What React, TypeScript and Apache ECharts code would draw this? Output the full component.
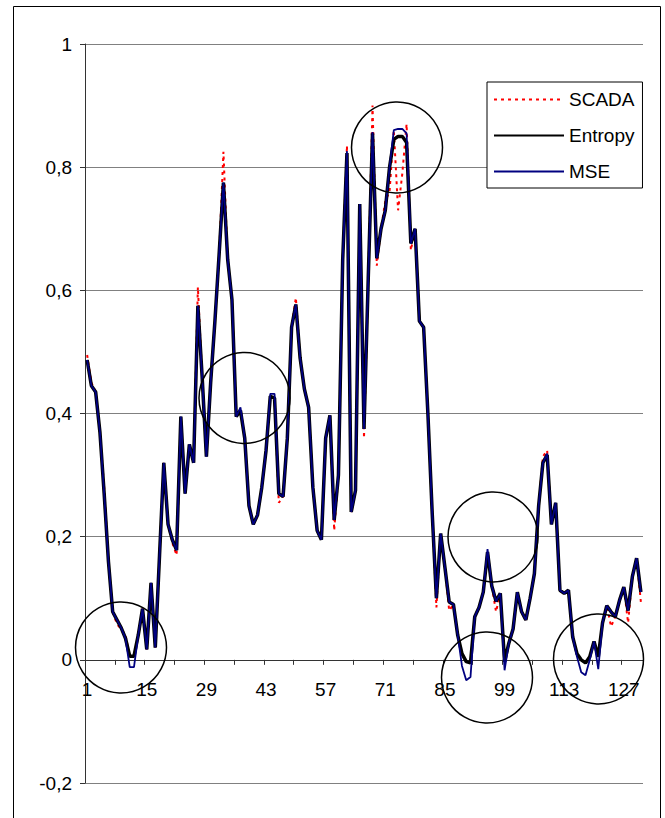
import React, { useEffect, useRef } from "react";
import * as echarts from "echarts";

const categories: string[] = Array.from({ length: 131 }, (_, i) => String(i + 1));

const entropy: number[] = [
  0.487, 0.445, 0.435, 0.37, 0.27, 0.16, 0.078, 0.065, 0.052, 0.035,
  0.006, 0.006, 0.04, 0.083, 0.017, 0.125, 0.02, 0.17, 0.32, 0.22,
  0.195, 0.178, 0.395, 0.27, 0.35, 0.32, 0.575, 0.46, 0.33, 0.45,
  0.55, 0.66, 0.775, 0.65, 0.585, 0.395, 0.405, 0.36, 0.25, 0.22,
  0.235, 0.28, 0.34, 0.428, 0.425, 0.27, 0.265, 0.36, 0.54, 0.577,
  0.49, 0.44, 0.41, 0.28, 0.21, 0.195, 0.36, 0.397, 0.227, 0.3,
  0.65, 0.823, 0.24, 0.275, 0.74, 0.375, 0.62, 0.855, 0.652, 0.7,
  0.73, 0.8, 0.845, 0.85, 0.85, 0.84, 0.676, 0.7, 0.55, 0.54,
  0.4, 0.24, 0.1, 0.205, 0.15, 0.094, 0.09, 0.04, 0.01, -0.003,
  -0.005, 0.07, 0.085, 0.11, 0.175, 0.12, 0.095, 0.108, -0.003, 0.027,
  0.05, 0.11, 0.078, 0.065, 0.1, 0.14, 0.25, 0.32, 0.333, 0.22,
  0.255, 0.113, 0.108, 0.113, 0.037, 0.01, 0.0, -0.005, 0.005, 0.03,
  0.005, 0.06, 0.088, 0.078, 0.07, 0.097, 0.118, 0.08, 0.135, 0.165,
  0.11,
];

const mse: number[] = [
  0.487, 0.445, 0.435, 0.37, 0.27, 0.16, 0.078, 0.065, 0.052, 0.035,
  -0.012, -0.012, 0.04, 0.083, 0.017, 0.125, 0.02, 0.17, 0.32, 0.22,
  0.195, 0.178, 0.395, 0.27, 0.35, 0.32, 0.575, 0.46, 0.33, 0.45,
  0.55, 0.66, 0.775, 0.65, 0.585, 0.395, 0.41, 0.36, 0.25, 0.22,
  0.235, 0.28, 0.34, 0.432, 0.432, 0.27, 0.265, 0.36, 0.54, 0.577,
  0.49, 0.44, 0.41, 0.28, 0.21, 0.195, 0.36, 0.397, 0.227, 0.3,
  0.65, 0.826, 0.24, 0.275, 0.74, 0.375, 0.62, 0.857, 0.652, 0.7,
  0.73, 0.8, 0.86, 0.862, 0.862, 0.855, 0.676, 0.7, 0.55, 0.54,
  0.4, 0.24, 0.1, 0.205, 0.15, 0.094, 0.09, 0.04, -0.01, -0.033,
  -0.028, 0.07, 0.085, 0.11, 0.18, 0.12, 0.095, 0.108, -0.017, 0.027,
  0.05, 0.11, 0.078, 0.065, 0.1, 0.14, 0.25, 0.32, 0.335, 0.22,
  0.255, 0.113, 0.108, 0.113, 0.037, 0.005, -0.02, -0.025, 0.0, 0.03,
  -0.015, 0.06, 0.088, 0.078, 0.07, 0.097, 0.118, 0.08, 0.135, 0.165,
  0.11,
];

const scada: number[] = [
  0.495, 0.45, 0.435, 0.37, 0.28, 0.16, 0.078, 0.058, 0.05, 0.04,
  0.006, 0.006, 0.04, 0.083, 0.017, 0.125, 0.02, 0.17, 0.32, 0.22,
  0.19, 0.17, 0.395, 0.27, 0.35, 0.32, 0.605, 0.46, 0.33, 0.45,
  0.55, 0.66, 0.825, 0.65, 0.585, 0.4, 0.405, 0.36, 0.25, 0.22,
  0.235, 0.28, 0.34, 0.428, 0.425, 0.255, 0.265, 0.36, 0.54, 0.588,
  0.49, 0.44, 0.41, 0.28, 0.21, 0.195, 0.36, 0.397, 0.21, 0.3,
  0.65, 0.835, 0.24, 0.275, 0.74, 0.36, 0.62, 0.9, 0.64, 0.7,
  0.745, 0.76, 0.86, 0.73, 0.79, 0.87, 0.665, 0.7, 0.55, 0.54,
  0.4, 0.24, 0.085, 0.205, 0.15, 0.08, 0.09, 0.04, 0.01, -0.003,
  -0.005, 0.07, 0.085, 0.11, 0.175, 0.12, 0.078, 0.108, -0.003, 0.027,
  0.05, 0.11, 0.078, 0.065, 0.1, 0.14, 0.25, 0.33, 0.34, 0.22,
  0.255, 0.113, 0.108, 0.113, 0.037, 0.01, 0.0, -0.005, 0.005, 0.03,
  0.005, 0.06, 0.088, 0.054, 0.07, 0.097, 0.118, 0.06, 0.135, 0.165,
  0.094,
];

const seriesNames: string[] = ["SCADA", "Entropy", "MSE"];

const FONT = "'Liberation Sans', Arial, sans-serif";

const Y_MIN = -0.2;
const Y_MAX = 1;
const GRID_TOP = 44;
const GRID_BOTTOM = 35;
const CHART_H = 818;

export default function App() {
  const ref = useRef<HTMLDivElement>(null);
  useEffect(() => {
    if (!ref.current) return;
    const chart = echarts.init(ref.current, null, { renderer: "svg" });
    const plotH = CHART_H - GRID_TOP - GRID_BOTTOM;
    const zeroOffset = -(plotH * (0 - Y_MIN)) / (Y_MAX - Y_MIN);
    const circle = (cx: number, cy: number, r: number) => ({
      type: "circle",
      shape: { cx, cy, r },
      style: { fill: "none", stroke: "#000", lineWidth: 1.5 },
      z: 100,
      silent: true,
    });
    chart.setOption({
      animation: false,
      backgroundColor: "#fff",
      grid: { left: 85, top: GRID_TOP, right: 22, bottom: GRID_BOTTOM, containLabel: false },
      legend: {
        data: seriesNames,
        orient: "vertical",
        left: 487,
        top: 82,
        itemWidth: 70,
        itemHeight: 14,
        itemGap: 17,
        padding: [8, 8, 7, 6],
        borderColor: "#000",
        borderWidth: 1,
        backgroundColor: "#fff",
        itemStyle: { opacity: 0 },
        textStyle: { fontFamily: FONT, fontSize: 19, color: "#000" },
        z: 50,
      },
      xAxis: {
        type: "category",
        data: categories,
        boundaryGap: true,
        position: "bottom",
        offset: zeroOffset,
        axisLine: { onZero: false, lineStyle: { color: "#333", width: 1 } },
        axisTick: { show: true, interval: 6, length: 5, lineStyle: { color: "#333" } },
        axisLabel: {
          interval: 13,
          margin: 20,
          fontFamily: FONT,
          fontSize: 19,
          color: "#000",
        },
        splitLine: { show: false },
      },
      yAxis: {
        type: "value",
        min: Y_MIN,
        max: Y_MAX,
        interval: 0.2,
        axisLine: { show: true, lineStyle: { color: "#333", width: 1 } },
        axisTick: { show: true, length: 5, lineStyle: { color: "#333" } },
        axisLabel: {
          margin: 13,
          fontFamily: FONT,
          fontSize: 19,
          color: "#000",
          formatter: (v: number) => String(Math.round(v * 10) / 10).replace(".", ","),
        },
        splitLine: { show: true, lineStyle: { color: "#808080", width: 1 } },
      },
      series: [
        {
          name: "SCADA",
          type: "line",
          data: scada,
          symbol: "none",
          z: 2,
          itemStyle: { color: "#ff0000" },
          lineStyle: { color: "#ff0000", width: 2, type: [3, 4] },
        },
        {
          name: "Entropy",
          type: "line",
          data: entropy,
          symbol: "none",
          z: 3,
          itemStyle: { color: "#000000" },
          lineStyle: { color: "#000000", width: 3.5 },
        },
        {
          name: "MSE",
          type: "line",
          data: mse,
          symbol: "none",
          z: 4,
          itemStyle: { color: "#000080" },
          lineStyle: { color: "#000080", width: 1.8 },
        },
      ],
      graphic: [
        {
          type: "rect",
          shape: { x: 13.5, y: 6.5, width: 647, height: 900 },
          style: { fill: "none", stroke: "#000", lineWidth: 1 },
          silent: true,
          z: 0,
        },
        circle(121, 647.5, 45.5),
        circle(244.5, 398, 45.5),
        circle(397, 147.5, 45.5),
        circle(493, 537, 45),
        circle(487, 677.5, 45.5),
        circle(598.5, 659, 45),
      ],
    });
    return () => chart.dispose();
  }, []);
  return (
    <div
      ref={ref}
      style={{ position: "fixed", left: 0, top: 0, width: 665, height: 818, background: "#fff" }}
    />
  );
}
